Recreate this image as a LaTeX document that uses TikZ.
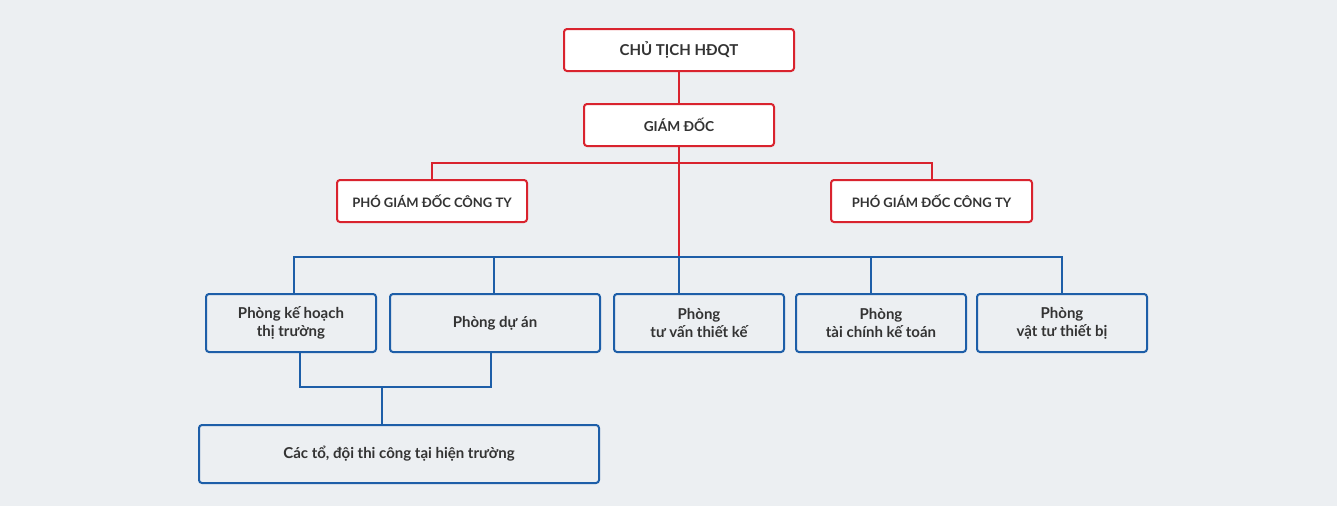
\documentclass[tikz,border=0pt]{standalone}
\usepackage{fontspec}
\setmainfont{Lato}
\definecolor{bg}{HTML}{ECEFF2}
\definecolor{rd}{HTML}{D9232E}
\definecolor{bl}{HTML}{1D5EA8}
\definecolor{tx}{HTML}{333333}
\tikzset{
  redbox/.style={draw=rd, line width=2pt, fill=white, rounded corners=3pt, text=tx, font=\bfseries, inner sep=0pt},
  bluebox/.style={draw=bl, line width=2pt, fill=bg, rounded corners=3pt, text=tx, font=\bfseries\fontsize{15}{18}\selectfont, align=center, inner sep=0pt, minimum width=170pt, minimum height=58pt},
  redline/.style={draw=rd, line width=2pt},
  blueline/.style={draw=bl, line width=2pt}
}
\begin{document}
\begin{tikzpicture}[x=1pt,y=-1pt]
\fill[bg] (0,0) rectangle (1337,506);
\useasboundingbox (0,0) rectangle (1337,506);
% red boxes
\node[redbox, minimum width=230pt, minimum height=42pt, font=\bfseries\fontsize{15}{18}\selectfont] (ct) at (679,50) {CHỦ TỊCH HĐQT};
\node[redbox, minimum width=190pt, minimum height=42pt, font=\bfseries\fontsize{13.7}{16}\selectfont] (gd) at (679,125) {GIÁM ĐỐC};
\node[redbox, minimum width=190pt, minimum height=42pt, font=\bfseries\fontsize{13}{16}\selectfont] (p1) at (432,201) {PHÓ GIÁM ĐỐC CÔNG TY};
\node[redbox, minimum width=201pt, minimum height=42pt, font=\bfseries\fontsize{13}{16}\selectfont] (p2) at (931.5,201) {PHÓ GIÁM ĐỐC CÔNG TY};
% blue boxes
\node[bluebox] (b1) at (291,323) {Phòng kế hoạch\\thị trường};
\node[bluebox, minimum width=210pt] (b2) at (495,323) {Phòng dự án};
\node[bluebox] (b3) at (699,323) {Phòng\\tư vấn thiết kế};
\node[bluebox] (b4) at (881,323) {Phòng\\tài chính kế toán};
\node[bluebox] (b5) at (1062,323) {Phòng\\vật tư thiết bị};
\node[bluebox, minimum width=400pt] (bt) at (399,454) {Các tổ, đội thi công tại hiện trường};
% coordinates
\coordinate (rbar) at (679,163);
\coordinate (bbar) at (679,257);
\coordinate (lbar) at (382,387);
% red connectors
\draw[redline] (ct.south) -- (gd.north);
\draw[redline] (p1.north) |- (rbar) -| (p2.north);
% blue connectors
\draw[blueline] ([xshift=3pt]b1.north) |- (bbar) -| (b5.north);
\draw[blueline] ([xshift=-1pt]b2.north) -- ([xshift=-1pt]b2.north |- bbar);
\draw[blueline] ([xshift=-10pt]b4.north) -- ([xshift=-10pt]b4.north |- bbar);
\draw[blueline] ([xshift=-20pt]b3.north) -- (bbar);
\draw[redline] (gd.south) -- ([yshift=1pt]bbar);
\draw[blueline] ([xshift=9pt]b1.south) |- (lbar) -| ([xshift=-4pt]b2.south);
\draw[blueline] (lbar) -- (lbar |- bt.north);
\end{tikzpicture}
\end{document}
